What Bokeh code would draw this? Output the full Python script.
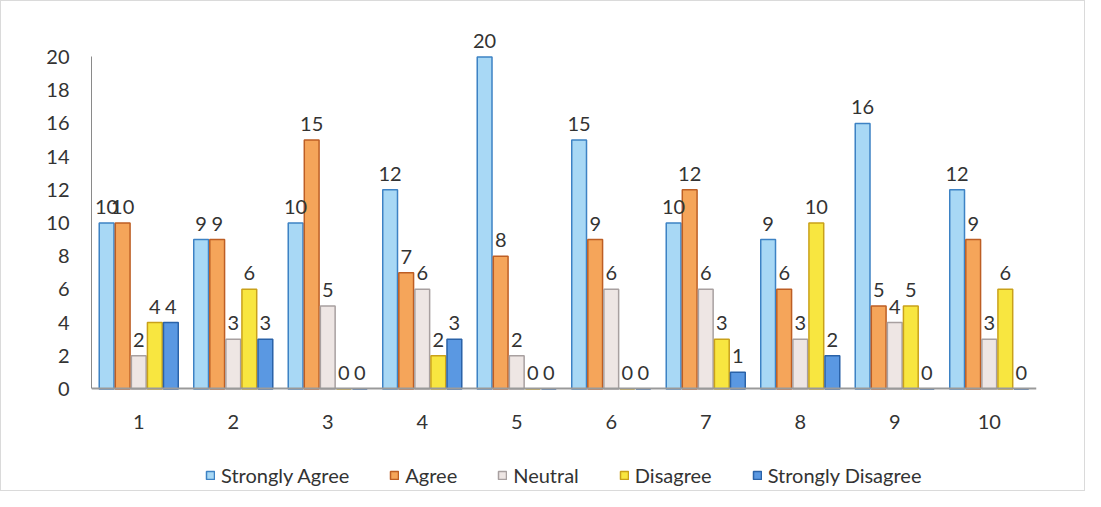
from bokeh.plotting import figure
from bokeh.models import ColumnDataSource, FactorRange, Range1d, FixedTicker, Legend, LegendItem, LabelSet
from bokeh.core.properties import value
from bokeh.transform import dodge
from bokeh.embed import file_html
from bokeh.resources import INLINE

groups = ["1", "2", "3", "4", "5", "6", "7", "8", "9", "10"]
series = ["Strongly Agree", "Agree", "Neutral", "Disagree", "Strongly Disagree"]
strongly_agree = [10, 9, 10, 12, 20, 15, 10, 9, 16, 12]
agree = [10, 9, 15, 7, 8, 9, 12, 6, 5, 9]
neutral = [2, 3, 5, 6, 2, 6, 6, 3, 4, 3]
disagree = [4, 6, 0, 2, 0, 0, 3, 10, 5, 6]
strongly_disagree = [4, 3, 0, 3, 0, 0, 1, 2, 0, 0]
y_ticks = list(range(0, 21, 2))

values = [strongly_agree, agree, neutral, disagree, strongly_disagree]
fills = ["#a8d8f5", "#f5a55a", "#eee6e4", "#f8e640", "#5a98e2"]
lines = ["#3d82c4", "#bd5e24", "#a8a0a0", "#c9a11a", "#2a62a8"]

FONT = "Lato"

p = figure(width=1085, height=491, x_range=FactorRange(*groups, range_padding=0),
           y_range=Range1d(-5.94, 22.5), output_backend="svg", toolbar_location=None,
           min_border_left=90, min_border_right=50, min_border_top=14, min_border_bottom=5)
p.styles = {"border": "1px solid #dadada", "box-sizing": "border-box"}
p.outline_line_color = None
p.xgrid.grid_line_color = None
p.ygrid.grid_line_color = None

bw = 0.17
offsets = [-2 * bw, -bw, 0, bw, 2 * bw]
items = []
for name, vals, fc, lc, off in zip(series, values, fills, lines, offsets):
    src = ColumnDataSource(dict(g=groups, v=vals, t=[str(v) for v in vals]))
    r = p.vbar(x=dodge("g", off, range=p.x_range), top="v", width=bw * 0.92, source=src,
               fill_color=fc, line_color=lc, line_width=1.5)
    items.append(LegendItem(label=name, renderers=[r]))
    lab = LabelSet(x=dodge("g", off, range=p.x_range), y="v", text="t", source=src,
                   text_align="center", text_baseline="bottom", y_offset=9,
                   text_font=value(FONT), text_font_size=value("20px"), text_color="#333333")
    p.add_layout(lab)

p.yaxis.ticker = FixedTicker(ticks=y_ticks)
p.yaxis.bounds = (0, 20)
p.yaxis.major_tick_line_color = None
p.yaxis.minor_tick_line_color = None
p.yaxis.axis_line_color = "#8a8a8a"
p.yaxis.major_label_standoff = 16
p.yaxis.major_label_text_font = FONT
p.yaxis.major_label_text_font_size = "20px"
p.yaxis.major_label_text_color = "#333333"

p.xaxis.fixed_location = 0
p.xaxis.major_tick_line_color = None
p.xaxis.minor_tick_line_color = None
p.xaxis.axis_line_color = "#9a9a9a"
p.xaxis.axis_line_width = 2
p.xaxis.major_label_standoff = 20
p.xaxis.major_label_text_font = FONT
p.xaxis.major_label_text_font_size = "20px"
p.xaxis.major_label_text_color = "#333333"

legend = Legend(items=items, orientation="horizontal", location=(114, 0),
                border_line_color=None, background_fill_alpha=0,
                glyph_width=10, glyph_height=10, label_text_font=FONT,
                label_text_font_size="20px", label_text_color="#333333",
                spacing=40, margin=0, padding=0, label_standoff=6)
p.add_layout(legend)

open("out.html", "w").write(file_html(p, INLINE))
